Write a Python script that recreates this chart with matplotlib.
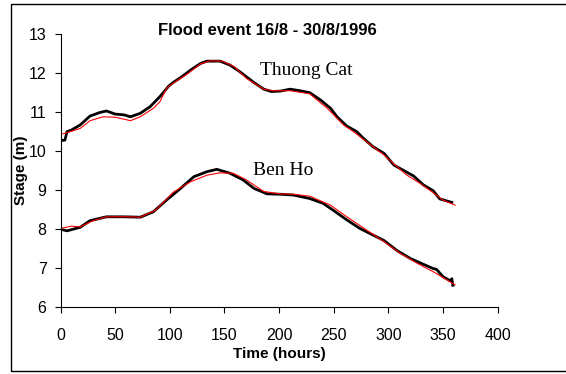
import matplotlib.pyplot as plt
from matplotlib.patches import Rectangle

# Thuong Cat - observed (black) and simulated (red)
tc_obs_t = [0, 4, 6, 10, 18, 27, 36, 42, 50, 58, 64, 73, 82, 91, 99, 103, 111, 119, 128, 134,
            146, 155, 164, 177, 186, 193, 201, 210, 219, 228, 238, 247, 253, 262, 271, 277,
            286, 296, 305, 314, 323, 332, 341, 347, 358]
tc_obs = [10.27, 10.28, 10.5, 10.54, 10.67, 10.9, 10.99, 11.03, 10.95, 10.93, 10.88, 10.97,
          11.14, 11.4, 11.67, 11.76, 11.91, 12.08, 12.25, 12.31, 12.31, 12.21, 12.04, 11.76,
          11.59, 11.53, 11.54, 11.59, 11.55, 11.5, 11.31, 11.1, 10.88, 10.64, 10.5, 10.33,
          10.11, 9.94, 9.64, 9.5, 9.36, 9.13, 8.98, 8.77, 8.68]
tc_sim_t = [2, 9, 18, 27, 39, 50, 64, 73, 85, 91, 97, 103, 116, 128, 137, 148, 159, 170, 186,
            195, 210, 228, 244, 259, 268, 280, 296, 305, 317, 329, 341, 350, 361]
tc_sim = [10.44, 10.5, 10.58, 10.78, 10.88, 10.87, 10.78, 10.88, 11.1, 11.27, 11.61, 11.74,
          11.98, 12.24, 12.32, 12.31, 12.17, 11.87, 11.59, 11.55, 11.55, 11.47, 11.1, 10.67,
          10.5, 10.24, 9.9, 9.67, 9.38, 9.17, 8.93, 8.74, 8.61]

# Ben Ho - observed (black) and simulated (red)
bh_obs_t = [0, 6, 18, 27, 42, 58, 73, 85, 97, 109, 122, 134, 143, 155, 167, 177, 189, 201,
            213, 228, 240, 250, 262, 274, 286, 296, 308, 320, 332, 341, 344, 350, 357, 358, 359]
bh_obs = [7.99, 7.95, 8.04, 8.21, 8.31, 8.31, 8.3, 8.44, 8.74, 9.02, 9.34, 9.47, 9.53, 9.43,
          9.26, 9.04, 8.9, 8.89, 8.87, 8.78, 8.66, 8.47, 8.23, 8.01, 7.84, 7.7, 7.44, 7.24,
          7.09, 6.98, 6.96, 6.77, 6.66, 6.72, 6.55]
bh_sim_t = [0, 10, 18, 29, 42, 61, 73, 87, 103, 119, 134, 146, 158, 170, 186, 201, 213, 228,
            247, 262, 280, 296, 311, 326, 341, 350, 361]
bh_sim = [8.01, 8.07, 8.05, 8.2, 8.31, 8.31, 8.3, 8.48, 8.94, 9.21, 9.38, 9.44, 9.43, 9.26,
          8.96, 8.9, 8.89, 8.84, 8.61, 8.31, 7.97, 7.67, 7.37, 7.12, 6.9, 6.75, 6.56]

plt.rcParams['font.family'] = ['Liberation Sans', 'DejaVu Sans']

fig = plt.figure(figsize=(5.66, 3.74), dpi=100)
ax = fig.add_axes([60.5 / 566, 1 - 306.7 / 374, (497.7 - 60.5) / 566, (306.7 - 34.3) / 374])

ax.plot(tc_obs_t, tc_obs, color='black', lw=2.0)
ax.plot(bh_obs_t, bh_obs, color='black', lw=2.0)
ax.plot(tc_sim_t, tc_sim, color='red', lw=0.8)
ax.plot(bh_sim_t, bh_sim, color='red', lw=0.8)

ax.set_xlim(0, 400)
ax.set_ylim(6, 13)
ax.set_xticks(range(0, 401, 50))
ax.set_yticks(range(6, 14))
ax.spines['top'].set_visible(False)
ax.spines['right'].set_visible(False)
ax.tick_params(axis='x', length=4, pad=11, labelsize=11.5)
ax.tick_params(axis='y', length=4, pad=6, labelsize=11.5)

ax.set_xlabel('Time (hours)', fontsize=11, fontweight='bold', labelpad=3)
ax.set_ylabel('Stage (m)', fontsize=11, fontweight='bold', labelpad=0.5)
fig.text(267 / 566, 1 - 30.7 / 374, 'Flood event 16/8 - 30/8/1996', ha='center', va='center',
         fontsize=12, fontweight='bold')

ax.text(225, 12.08, 'Thuong Cat', family='Liberation Serif', fontsize=14, ha='center', va='center')
ax.text(204, 9.51, 'Ben Ho', family='Liberation Serif', fontsize=14, ha='center', va='center')

fig.patches.append(Rectangle((11 / 566, 3 / 374), 1.0, 367 / 374, transform=fig.transFigure,
                             fill=False, edgecolor='black', lw=1.0))

fig.savefig('out.png', dpi=100)
